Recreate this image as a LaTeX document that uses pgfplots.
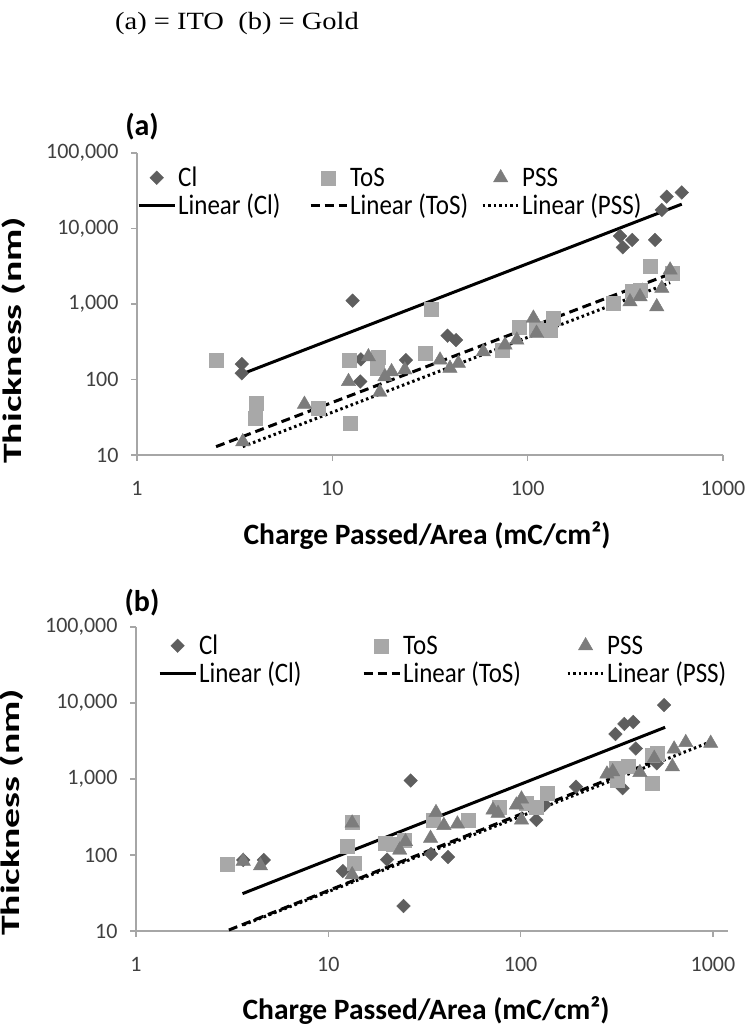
\documentclass[border=0pt]{standalone}
\usepackage{fontspec}
\setmainfont{Carlito}
\newfontfamily\headfont{Liberation Serif}
\usepackage{pgfplots}
\pgfplotsset{compat=1.18}
\usepackage{pgfplotstable}

\definecolor{clc}{HTML}{5E5E5E}
\definecolor{tosc}{HTML}{A8A8A8}
\definecolor{pssc}{HTML}{7C7C7C}
\definecolor{axc}{HTML}{A6A6A6}
\definecolor{tickc}{HTML}{404040}

% legend text is a little taller than plain Carlito in the reference
\newcommand{\legtext}[2][130pt]{\makebox[#1][l]{\scalebox{1}[1.13]{#2}}}

% (a) ITO
\pgfplotstableread{
x y
3.44 160
3.44 121
12.7 1107
14.0 185
13.9 94
23.8 181
38.9 380
43 333
297 7960
307 5640
343 7050
449 7050
486 17600
515 26400
615 30000
}\clA
\pgfplotstableread{
x y
2.54 181
4.10 49
4.02 31
8.48 42
12.2 181
12.3 26
17.2 200
16.9 141
29.8 226
32 851
73.7 246
90 500
111 476
130 453
135 650
275 1020
341 1455
376 1530
423 3120
547 2550
}\tosA
\pgfplotstableread{
x y
3.48 15
7.2 47
12.1 94
15.3 200
17.5 68
18.6 109
20.1 127
23.5 134
35.6 181
40 141
44.2 164
59.3 233
76.6 286
88 333
107 650
111 410
334 1070
376 1250
458 920
486 1615
536 2820
}\pssA

% (b) Gold
\pgfplotstableread{
x y
3.61 86
4.62 86
11.9 61.5
20.2 87
24.6 21.3
26.8 955
34.2 103
41.9 94
120.6 289
133 455
194 792
311 3900
346 5300
385 5620
397 2520
339 755
510 1610
557 9400
}\clB
\pgfplotstableread{
x y
2.99 76
12.5 129
13.3 268
13.6 79
19.7 143
21.8 140
24.8 157
35.1 289
53.3 289
77.8 432
107 479
120.6 432
138 649
313 1384
319 970
363 1480
485 2070
514 2180
485 877
}\tosB
\pgfplotstableread{
x y
3.61 83
4.44 72
13.3 264
13.3 55
23.5 116
25.2 150
34 166
36.3 362
39.9 245
46.9 256
71.8 391
76.3 354
95 455
101 546
101 289
281 1164
301 1248
417 1218
495 1870
615 1452
628 2480
722 3020
973 2950
}\pssB

\pgfplotsset{
  legend image code/.code={\draw[mark repeat=2,mark phase=2,#1] plot coordinates {(0pt,0pt) (18pt,0pt) (36pt,0pt)};},
}

\begin{document}
\begin{tikzpicture}
\useasboundingbox (0pt,0pt) rectangle (751pt,1031pt);

\node[font=\headfont\fontsize{28.5}{33}\selectfont] at (237pt,1007pt) {\scalebox{1}[0.87]{(a) = ITO\ \ (b) = Gold}};

\begin{axis}[
  xmode=log, ymode=log,
  scale only axis,
  width=586pt, height=302pt,
  at={(137pt,576pt)}, anchor=south west,
  xmin=1, xmax=1000, ymin=10, ymax=100000,
  axis x line*=bottom, axis y line*=left,
  axis line style={axc, line width=1.2pt, -},
  xtick={1,10,100,1000}, xticklabels={1,10,100,1000},
  ytick={10,100,1000,10000,100000},
  yticklabels={10,100,{1,000},{10,000},{100,000}},
  xminorticks=false, yminorticks=false,
  tick align=outside, major tick length=6pt,
  tick style={axc, line width=1.2pt},
  ticklabel style={font=\fontsize{22}{26}\selectfont, text=tickc},
  yticklabel style={xshift=-9pt},
  xticklabel style={yshift=-17pt},
  xlabel={Charge Passed/Area (mC/cm²)},
  ylabel={\fontsize{26.5}{30}\selectfont\scalebox{1.5}[1]{Thickness (nm)}},
  label style={font=\bfseries\fontsize{29.5}{34}\selectfont, text=black},
  xlabel style={at={(axis description cs:0.495,-0.265)}, anchor=center},
  ylabel style={at={(axis description cs:-0.21,0.38)}, anchor=center},
  clip=false,
  legend columns=3,
  legend cell align=left,
  legend style={draw=none, fill=none, at={(0,1)}, anchor=north west, yshift=-13pt,
    font=\fontsize{25}{30}\selectfont, inner sep=0pt, row sep=4pt,
    nodes={inner sep=1pt},
    /tikz/every odd column/.append style={column sep=1pt}},
]
\addplot[only marks, mark=square*, mark size=4.8pt, mark options={rotate=45, fill=clc, draw=clc}] table {\clA};
\addlegendentry{\legtext{Cl}}
\addplot[only marks, mark=square*, mark size=7pt, mark options={fill=tosc, draw=tosc}] table {\tosA};
\addlegendentry{\legtext{ToS}}
\addplot[only marks, mark=triangle*, mark size=8.3pt, mark options={fill=pssc, draw=pssc}] table {\pssA};
\addlegendentry{\legtext[0pt]{PSS}}
\addplot[black, line width=3pt, no marks] coordinates {(3.44,118) (615,21000)};
\addlegendentry{\legtext{Linear (Cl)}}
\addplot[black, line width=3pt, dash pattern=on 9pt off 5pt, no marks] coordinates {(2.54,12.9) (547,2550)};
\addlegendentry{\legtext{Linear (ToS)}}
\addplot[black, line width=3pt, dash pattern=on 2.5pt off 3pt, no marks] coordinates {(3.48,12.9) (536,1915)};
\addlegendentry{\legtext[0pt]{Linear (PSS)}}
\end{axis}
\node[font=\bfseries\fontsize{30}{36}\selectfont] at (142pt,904pt) {(a)};

\begin{axis}[
  xmode=log, ymode=log,
  scale only axis,
  width=592pt, height=304pt,
  at={(136pt,100pt)}, anchor=south west,
  xmin=1, xmax=1197, ymin=10, ymax=100000,
  axis x line*=bottom, axis y line*=left,
  axis line style={axc, line width=1.2pt, -},
  xtick={1,10,100,1000}, xticklabels={1,10,100,1000},
  ytick={10,100,1000,10000,100000},
  yticklabels={10,100,{1,000},{10,000},{100,000}},
  xminorticks=false, yminorticks=false,
  tick align=outside, major tick length=6pt,
  tick style={axc, line width=1.2pt},
  ticklabel style={font=\fontsize{22}{26}\selectfont, text=tickc},
  yticklabel style={xshift=-9pt},
  xticklabel style={yshift=-17pt},
  xlabel={Charge Passed/Area (mC/cm²)},
  ylabel={\fontsize{26.5}{30}\selectfont\scalebox{1.5}[1]{Thickness (nm)}},
  label style={font=\bfseries\fontsize{29.5}{34}\selectfont, text=black},
  xlabel style={at={(axis description cs:0.49,-0.26)}, anchor=center},
  ylabel style={at={(axis description cs:-0.21,0.39)}, anchor=center},
  clip=false,
  legend columns=3,
  legend cell align=left,
  legend style={draw=none, fill=none, at={(0.037,1)}, anchor=north west, yshift=-7pt,
    font=\fontsize{25}{30}\selectfont, inner sep=0pt, row sep=4pt,
    nodes={inner sep=1pt},
    /tikz/every odd column/.append style={column sep=1pt}},
]
\addplot[only marks, mark=square*, mark size=4.8pt, mark options={rotate=45, fill=clc, draw=clc}] table {\clB};
\addlegendentry{\legtext[162pt]{Cl}}
\addplot[only marks, mark=square*, mark size=7pt, mark options={fill=tosc, draw=tosc}] table {\tosB};
\addlegendentry{\legtext[162pt]{ToS}}
\addplot[only marks, mark=triangle*, mark size=8.3pt, mark options={fill=pssc, draw=pssc}] table {\pssB};
\addlegendentry{\legtext[0pt]{PSS}}
\addplot[black, line width=3pt, no marks] coordinates {(3.58,31) (564,4790)};
\addlegendentry{\legtext[162pt]{Linear (Cl)}}
\addplot[black, line width=3pt, dash pattern=on 9pt off 5pt, no marks] coordinates {(3.04,10.3) (514,1780)};
\addlegendentry{\legtext[162pt]{Linear (ToS)}}
\addplot[black, line width=3pt, dash pattern=on 2.5pt off 3pt, no marks] coordinates {(3.61,12) (973,3090)};
\addlegendentry{\legtext[0pt]{Linear (PSS)}}
\end{axis}
\node[font=\bfseries\fontsize{30}{36}\selectfont] at (142pt,428pt) {(b)};
\end{tikzpicture}
\end{document}
